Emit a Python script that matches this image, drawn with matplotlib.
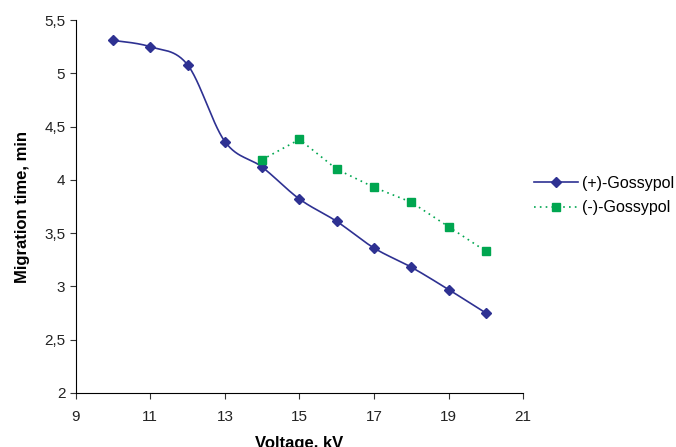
import numpy as np
import matplotlib.pyplot as plt
from matplotlib.ticker import FuncFormatter

plt.rcParams['font.family'] = ['Liberation Sans', 'DejaVu Sans']

# data
volt_plus = [10, 11, 12, 13, 14, 15, 16, 17, 18, 19, 20]
time_plus = [5.31, 5.25, 5.08, 4.36, 4.12, 3.82, 3.61, 3.36, 3.18, 2.97, 2.75]
volt_minus = [14, 15, 16, 17, 18, 19, 20]
time_minus = [4.19, 4.38, 4.10, 3.93, 3.79, 3.56, 3.33]


def smooth(xs, ys, n=30):
    # Excel-like smoothed line (Catmull-Rom through the points as Bezier)
    p = np.column_stack([xs, ys]).astype(float)
    p = np.vstack([p[0], p, p[-1]])
    out = []
    t = np.linspace(0, 1, n)
    for i in range(1, len(p) - 2):
        p0, p1, p2, p3 = p[i - 1], p[i], p[i + 1], p[i + 2]
        c1 = p1 + (p2 - p0) / 6
        c2 = p2 - (p3 - p1) / 6
        seg = ((1 - t) ** 3)[:, None] * p1 + (3 * (1 - t) ** 2 * t)[:, None] * c1 \
            + (3 * (1 - t) * t ** 2)[:, None] * c2 + (t ** 3)[:, None] * p2
        out.append(seg)
    out = np.vstack(out)
    return out[:, 0], out[:, 1]


fig = plt.figure(figsize=(6.76, 4.47), dpi=100)
ax = fig.add_axes([0.112, 0.121, 0.662, 0.834])

blue = '#2e3192'
green = '#00a650'

sx, sy = smooth(volt_plus, time_plus)
ax.plot(sx, sy, color=blue, lw=1.2)
ax.plot(volt_plus, time_plus, ls='none', marker='D', ms=5, color=blue)
ax.plot([], [], color=blue, lw=1.2, marker='D', ms=5, label='(+)-Gossypol')
ax.plot(volt_minus, time_minus, color=green, lw=1.2, ls=(0, (1, 2.5)),
        marker='s', ms=5.5, label='(-)-Gossypol')

ax.set_xlim(9, 21)
ax.set_ylim(2, 5.5)
ax.set_xticks(range(9, 22, 2))
ax.set_yticks(np.arange(2, 5.51, 0.5))
ax.yaxis.set_major_formatter(FuncFormatter(lambda v, p: ('%g' % v).replace('.', ',')))
ax.spines['top'].set_visible(False)
ax.spines['right'].set_visible(False)
ax.tick_params(labelsize=11, length=4, color='#333333', labelcolor='#222222')
ax.tick_params(axis='x', pad=8)

ax.set_xlabel('Voltage, kV', fontsize=12, fontweight='bold', labelpad=9)
ax.set_ylabel('Migration time, min', fontsize=12, fontweight='bold', labelpad=10)

ax.legend(loc='center left', bbox_to_anchor=(1.0, 0.53), frameon=False,
          fontsize=11.5, handlelength=2.7, handletextpad=0.3, labelspacing=0.6,
          borderaxespad=0.3)

fig.savefig('out.png', dpi=100)
